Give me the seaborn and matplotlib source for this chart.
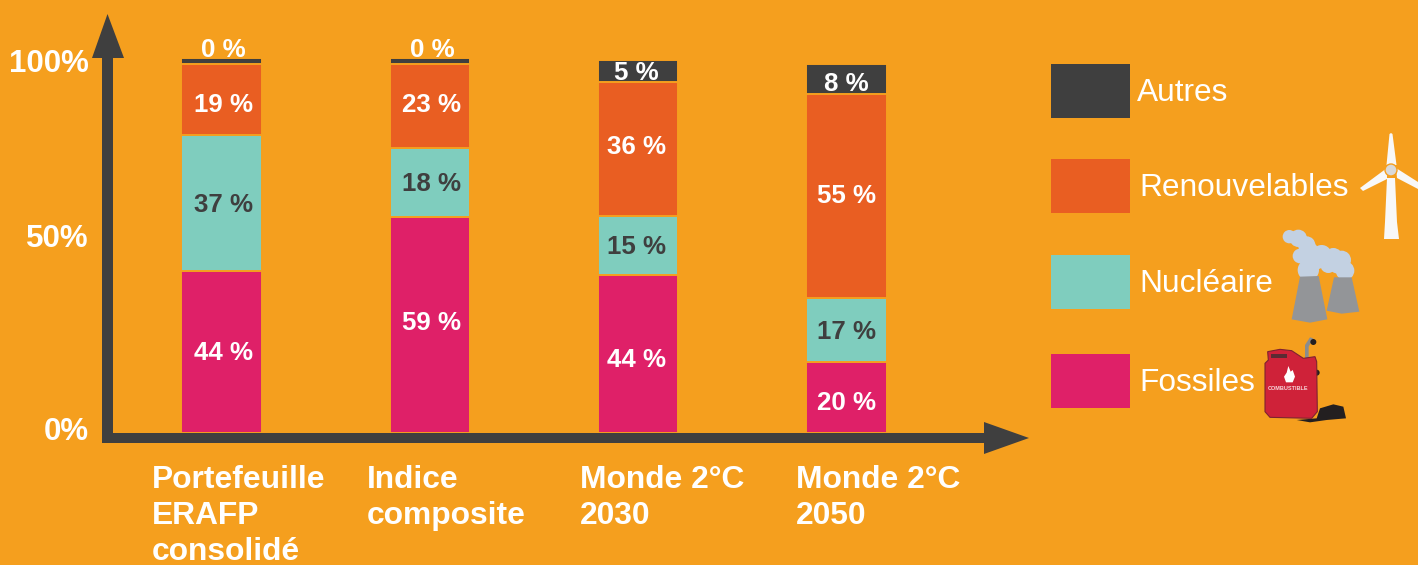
#!/usr/bin/env python3

import numpy as np
import pandas as pd
import matplotlib
matplotlib.use('agg')
import matplotlib.pyplot as plt
from matplotlib.patches import Circle, Polygon, Rectangle
from matplotlib.transforms import Affine2D
import seaborn as sns

categories = ["Portefeuille\nERAFP\nconsolidé", "Indice\ncomposite", "Monde 2°C\n2030", "Monde 2°C\n2050"]
category_x = [152, 367, 580, 796]

## heights as measured on the picture, the printed labels do not add up exactly
fossiles = [44.3, 59.0, 43.2, 19.4]
nucleaire = [37.2, 18.9, 16.1, 17.6]
renouvelables = [19.4, 23.0, 36.6, 55.5]
autres = [1.6, 1.6, 6.0, 8.3]

fossiles_labels = ["44 %", "59 %", "44 %", "20 %"]
nucleaire_labels = ["37 %", "18 %", "15 %", "17 %"]
renouvelables_labels = ["19 %", "23 %", "36 %", "55 %"]
autres_labels = ["0 %", "0 %", "5 %", "8 %"]

y_tick_labels = ["100%", "50%", "0%"]
y_tick_px = [64, 239, 432]
legend_labels = ["Autres", "Renouvelables", "Nucléaire", "Fossiles"]
legend_top_px = [64, 159, 255, 354]
legend_text_x = [1137, 1139, 1139, 1139]

BG = "#F59F1E"
DARK = "#3F3F3F"
ORANGE = "#E95E22"
TEAL = "#7FCDBE"
PINK = "#DF2068"
legend_colors = [DARK, ORANGE, TEAL, PINK]

W, H = 1418, 565


def draw_axes_arrows(ax, px):
	ax.add_patch(Polygon([(102, 443), (102, 58), (92, 58), (107.5, 14), (124, 58), (113, 58), (113, 443)], closed=True, color=DARK, lw=0, transform=px, zorder=5))
	ax.add_patch(Polygon([(102, 433), (984, 433), (984, 422), (1029, 438), (984, 454), (984, 443), (102, 443)], closed=True, color=DARK, lw=0, transform=px, zorder=5))


def draw_turbine(ax, px):
	white = "#F8F8F8"
	ax.add_patch(Polygon([(1387, 178), (1395, 178), (1397, 222), (1399, 239), (1384, 239), (1385, 222)], closed=True, color=white, lw=0, transform=px))
	ax.add_patch(Polygon([(1389.5, 134), (1391, 133), (1392.5, 134), (1396.5, 165), (1386.5, 165)], closed=True, color=white, lw=0, transform=px))
	ax.add_patch(Polygon([(1360, 188), (1363, 191), (1387, 179), (1387, 168)], closed=True, color=white, lw=0, transform=px))
	ax.add_patch(Polygon([(1396, 168), (1418, 182), (1418, 189), (1397, 178)], closed=True, color=white, lw=0, transform=px))
	ax.add_patch(Circle((1391, 170), 6, facecolor="#D9D9D9", edgecolor=BG, lw=1, transform=px))


def crop_xy(points):
	return [(1040+x/3, 220+y/3) for x, y in points]


def draw_towers(ax, px):
	smoke = [(748, 50, 20), (775, 55, 26), (800, 75, 26), (812, 90, 22), (780, 108, 22), (805, 130, 24), (805, 150, 32), (845, 105, 30), (880, 112, 28), (905, 120, 28), (915, 152, 28), (865, 135, 24), (830, 120, 28), (890, 140, 20)]
	for x, y, r in smoke:
		ax.add_patch(Circle(crop_xy([(x, y)])[0], r/3, color="#C3D1E2", lw=0, transform=px))
	ax.add_patch(Polygon(crop_xy([(780, 170), (836, 168), (862, 298), (810, 308), (755, 298)]), closed=True, color="#939598", lw=0, transform=px))
	ax.add_patch(Polygon(crop_xy([(882, 172), (935, 172), (958, 275), (905, 281), (860, 272)]), closed=True, color="#939598", lw=0, transform=px))


def draw_can(ax, px):
	red = "#CF2239"
	ax.add_patch(Polygon(crop_xy([(770, 600), (830, 595), (840, 565), (880, 553), (910, 560), (918, 595), (860, 600), (810, 607)]), closed=True, color="#231F20", lw=0, transform=px))
	ax.add_patch(Polygon(crop_xy([(795, 415), (795, 375), (810, 352), (820, 355), (806, 380), (806, 415)]), closed=True, color="#8A8C8E", lw=0, transform=px))
	ax.add_patch(Circle(crop_xy([(820, 366)])[0], 3, color="#231F20", lw=0, transform=px))
	ax.add_patch(Circle(crop_xy([(830, 458)])[0], 3, color="#231F20", lw=0, transform=px))
	ax.add_patch(Polygon(crop_xy([(683, 395), (720, 388), (755, 392), (790, 415), (825, 410), (830, 425), (832, 575), (815, 595), (690, 592), (675, 575), (675, 430), (685, 420)]), closed=True, facecolor=red, edgecolor="#7E2230", lw=0.8, transform=px))
	ax.add_patch(Polygon(crop_xy([(692, 401), (742, 401), (742, 414), (692, 414)]), closed=True, color="#5B2B33", lw=0, transform=px))
	ax.add_patch(Polygon(crop_xy([(745, 438), (752, 455), (758, 450), (765, 470), (758, 487), (738, 487), (732, 470), (740, 458)]), closed=True, color="white", lw=0, transform=px))
	ax.text(1288.5, 388, "COMBUSTIBLE", transform=px, color="#F6D5D9", fontsize=4, fontweight="bold", ha="center", va="center")


def add_labels(ax, container, labels, color, dy, label_type="center", padding=0):
	## picture labels are not quite centred, nudge them in pixels
	dx = [2, 2, -2, 0]
	texts = ax.bar_label(container, labels=labels, label_type=label_type, padding=padding, color=color, fontsize=18.6, fontweight="bold")
	for t, x, y in zip(texts, dx, dy):
		ox, oy = t.xyann
		t.xyann = (ox+x*0.72, oy-y*0.72)


def make_stacked_bars(output):
	sns.set_theme(style="white")
	plt.rcParams['font.family'] = ['Liberation Sans', 'DejaVu Sans']

	fig = plt.figure(figsize=(W/100, H/100), dpi=100, facecolor=BG)
	ax = fig.add_axes([0, 0, 1, 1])
	ax.set_facecolor(BG)

	bars = pd.DataFrame({"cat": categories, "Fossiles": fossiles, "Nucléaire": nucleaire, "Renouvelables": renouvelables, "Autres": autres})
	bottom = np.zeros(len(categories))
	for name, color in zip(["Fossiles", "Nucléaire", "Renouvelables", "Autres"], [PINK, TEAL, ORANGE, DARK]):
		sns.barplot(data=bars, x="cat", y=name, color=color, saturation=1, width=0.385, bottom=bottom, edgecolor=BG, linewidth=1.4, ax=ax)
		bottom = bottom+bars[name].values

	add_labels(ax, ax.containers[0], fossiles_labels, "white", [1, -2, 6, 6])
	add_labels(ax, ax.containers[1], nucleaire_labels, DARK, [2, 2, 2, 2])
	add_labels(ax, ax.containers[2], renouvelables_labels, "white", [6, -1, -2, 0])
	## the two empty top segments carry their label above the bar
	top_center = [t if v > 2 else "" for t, v in zip(autres_labels, autres)]
	top_edge = [t if v <= 2 else "" for t, v in zip(autres_labels, autres)]
	add_labels(ax, ax.containers[3], top_center, "white", [0, 0, 2, 5])
	add_labels(ax, ax.containers[3], top_edge, "white", [3, 3, 0, 0], label_type="edge", padding=-1)

	## 0 at y=433px and 3.66px per percent, first bar centre at x=221.5px, 208.3px between bars
	ax.set_xlim(-221.5/208.33, (W-221.5)/208.33)
	ax.set_ylim(-(H-433)/3.66, 433/3.66)
	ax.axis("off")

	## pixel coordinates for everything that is not a data mark
	px = Affine2D().scale(1, -1).translate(0, H)

	draw_axes_arrows(ax, px)

	for label, y in zip(y_tick_labels, y_tick_px):
		ax.text(89, y, label, transform=px, color="white", fontsize=22.5, fontweight="bold", ha="right", va="center")
	for label, x in zip(categories, category_x):
		ax.text(x, 465, label, transform=px, color="white", fontsize=22.9, fontweight="bold", ha="left", va="top", linespacing=1.27)

	for label, y, color, x in zip(legend_labels, legend_top_px, legend_colors, legend_text_x):
		ax.add_patch(Rectangle((1051, y), 79, 54, color=color, lw=0, transform=px))
		ax.text(x, y+29, label, transform=px, color="white", fontsize=22.8, ha="left", va="center")

	draw_turbine(ax, px)
	draw_towers(ax, px)
	draw_can(ax, px)

	fig.savefig(output, dpi=100, facecolor=BG)


def main():
	make_stacked_bars("out.png")


if __name__ == "__main__":
	main()
